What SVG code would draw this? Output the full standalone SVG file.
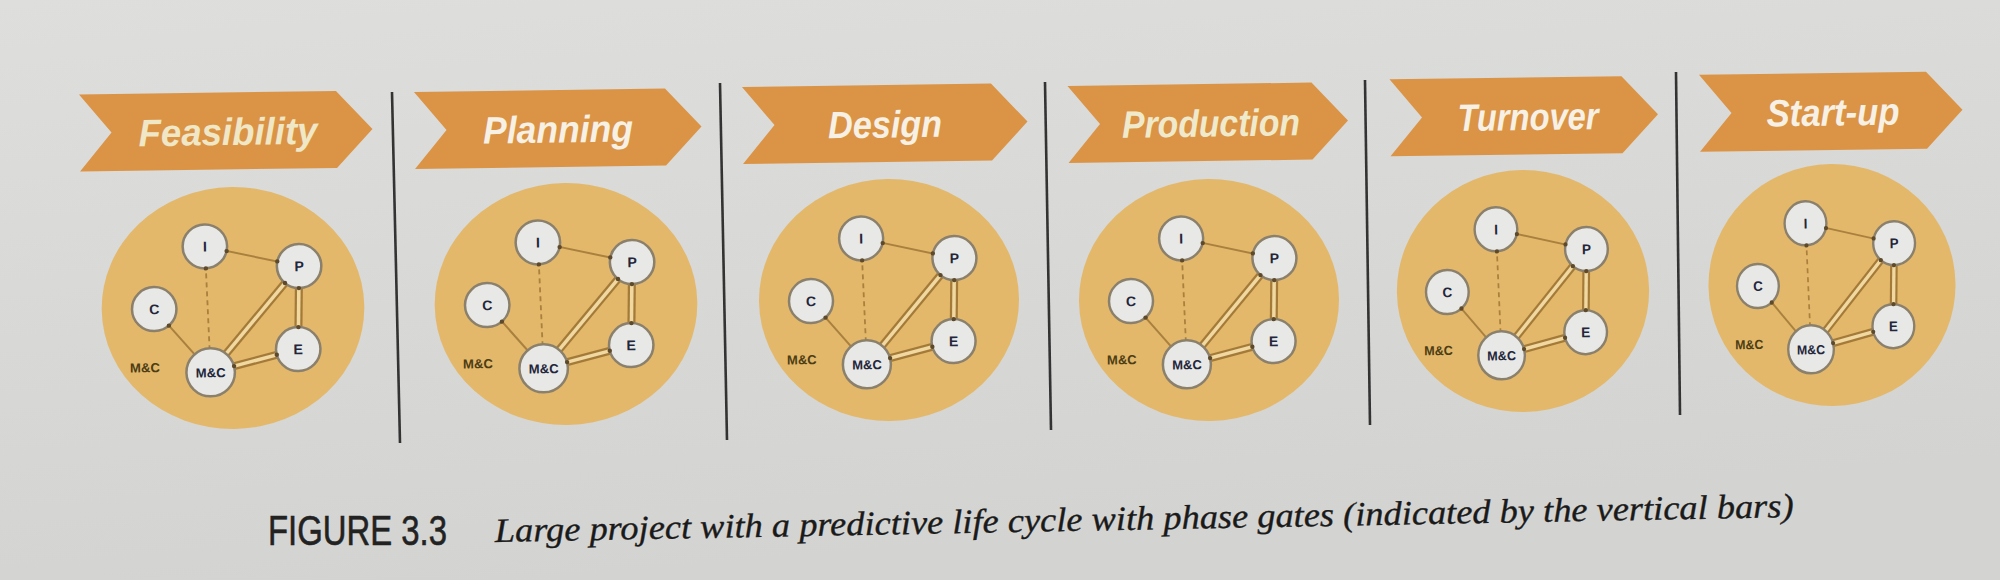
<svg xmlns="http://www.w3.org/2000/svg" width="2000" height="580" viewBox="0 0 2000 580">
<defs>
<linearGradient id="paper" x1="0" y1="0" x2="0.3" y2="1">
<stop offset="0" stop-color="#dededc"/>
<stop offset="1" stop-color="#d3d3d1"/>
</linearGradient>
<style>
.banner{fill:#db9446}
.btxt{font-family:"Liberation Sans",Arial,sans-serif;font-weight:bold;font-style:italic;font-size:38px;fill:#f6f1e4;text-anchor:middle}
.disc{fill:#e3b86a}
.thin{stroke:#a9803e;stroke-width:2;fill:none}
.dash{stroke:#a9803e;stroke-width:1.8;stroke-dasharray:5 4;fill:none}
.dbo{stroke:#a47a38;stroke-width:8;fill:none}
.dbi{stroke:#f0d8a0;stroke-width:3.5;fill:none}
.dot{fill:#5e4a2a}
.node{fill:#e8e8e6;stroke:#8b806c;stroke-width:2.5}
.ntxt{font-family:"Liberation Sans",Arial,sans-serif;font-weight:bold;font-size:14px;fill:#23263a;text-anchor:middle}
.mtxt{font-family:"Liberation Sans",Arial,sans-serif;font-weight:bold;font-size:13px;fill:#23263a;text-anchor:middle}
.otxt{font-family:"Liberation Sans",Arial,sans-serif;font-weight:bold;font-size:13px;fill:#4d3d14;text-anchor:middle}
.bar{stroke:#333333;stroke-width:2.6}
.fig{font-family:"Liberation Sans",Arial,sans-serif;font-size:42px;fill:#222222;stroke:#222222;stroke-width:0.6}
.cap{font-family:"Liberation Serif","Times New Roman",serif;font-style:italic;font-size:34px;fill:#1a1a1a;stroke:#1a1a1a;stroke-width:0.35}
</style>
</defs>
<rect x="0" y="0" width="2000" height="580" fill="url(#paper)"/>

<!-- phase gates -->
<g id="gates">
<line class="bar" x1="392" y1="92" x2="400" y2="443"/>
<line class="bar" x1="720" y1="83" x2="727" y2="440"/>
<line class="bar" x1="1045" y1="82" x2="1051" y2="430"/>
<line class="bar" x1="1365" y1="80" x2="1370" y2="425"/>
<line class="bar" x1="1676" y1="72" x2="1680" y2="415"/>
</g>

<!-- Panel 1 -->
<g id="banner-feasibility" transform="translate(226,131) rotate(-0.8)">
<polygon class="banner" points="-146.5,-38.5 110.5,-38.5 146.5,0 110.5,38.5 -146.5,38.5 -114.5,0"/>
<text class="btxt" x="2" y="14" textLength="179" lengthAdjust="spacingAndGlyphs" style="fill:#efe7c6">Feasibility</text>
</g>
<g id="panel-feasibility" transform="translate(233,308) rotate(-0.8) scale(1.01,1)">
<ellipse class="disc" rx="130" ry="121"/>
<g id="p1-connectors">
<line class="thin" x1="-27" y1="-62" x2="66" y2="-41"/>
<line class="dash" x1="-27" y1="-62" x2="-23" y2="64"/>
<line class="thin" x1="-78" y1="0" x2="-23" y2="64"/>
<line class="dbo" x1="66" y1="-41" x2="-23" y2="64"/><line class="dbi" x1="66" y1="-41" x2="-23" y2="64"/>
<line class="dbo" x1="66" y1="-41" x2="64" y2="42"/><line class="dbi" x1="66" y1="-41" x2="64" y2="42"/>
<line class="dbo" x1="64" y1="42" x2="-23" y2="64"/><line class="dbi" x1="64" y1="42" x2="-23" y2="64"/>
</g>
<g id="p1-I"><circle class="node" cx="-27" cy="-62" r="22"/><text class="ntxt" x="-27" y="-57">I</text></g>
<g id="p1-P"><circle class="node" cx="66" cy="-41" r="22"/><text class="ntxt" x="66" y="-36">P</text></g>
<g id="p1-C"><circle class="node" cx="-78" cy="0" r="22"/><text class="ntxt" x="-78" y="5">C</text></g>
<g id="p1-E"><circle class="node" cx="64" cy="42" r="22"/><text class="ntxt" x="64" y="47">E</text></g>
<g id="p1-MC"><circle class="node" cx="-23" cy="64" r="24"/><text class="mtxt" x="-23" y="69">M&amp;C</text></g>
<g id="p1-dots"><circle class="dot" cx="-5.5" cy="-57" r="2.2"/><circle class="dot" cx="44.5" cy="-46" r="2.2"/><circle class="dot" cx="-26.3" cy="-40" r="2.2"/><circle class="dot" cx="-63.7" cy="16.7" r="2.2"/><circle class="dot" cx="51.8" cy="-24.2" r="2.2"/><circle class="dot" cx="65.5" cy="-19" r="2.2"/><circle class="dot" cx="64.5" cy="20" r="2.2"/><circle class="dot" cx="42.7" cy="47.4" r="2.2"/><circle class="dot" cx="0.3" cy="58.1" r="2.2"/></g>
<text class="otxt" x="-88" y="63">M&amp;C</text>
</g>

<!-- Panel 2 -->
<g id="banner-planning" transform="translate(558,128.5) rotate(-0.8)">
<polygon class="banner" points="-143.5,-38.5 107.5,-38.5 143.5,0 107.5,38.5 -143.5,38.5 -111.5,0"/>
<text class="btxt" x="0" y="14" textLength="150" lengthAdjust="spacingAndGlyphs">Planning</text>
</g>
<g id="panel-planning" transform="translate(566,304) rotate(-0.8) scale(1.01,1)">
<ellipse class="disc" rx="130" ry="121"/>
<g id="p2-connectors">
<line class="thin" x1="-27" y1="-62" x2="66" y2="-41"/>
<line class="dash" x1="-27" y1="-62" x2="-23" y2="64"/>
<line class="thin" x1="-78" y1="0" x2="-23" y2="64"/>
<line class="dbo" x1="66" y1="-41" x2="-23" y2="64"/><line class="dbi" x1="66" y1="-41" x2="-23" y2="64"/>
<line class="dbo" x1="66" y1="-41" x2="64" y2="42"/><line class="dbi" x1="66" y1="-41" x2="64" y2="42"/>
<line class="dbo" x1="64" y1="42" x2="-23" y2="64"/><line class="dbi" x1="64" y1="42" x2="-23" y2="64"/>
</g>
<g id="p2-I"><circle class="node" cx="-27" cy="-62" r="22"/><text class="ntxt" x="-27" y="-57">I</text></g>
<g id="p2-P"><circle class="node" cx="66" cy="-41" r="22"/><text class="ntxt" x="66" y="-36">P</text></g>
<g id="p2-C"><circle class="node" cx="-78" cy="0" r="22"/><text class="ntxt" x="-78" y="5">C</text></g>
<g id="p2-E"><circle class="node" cx="64" cy="42" r="22"/><text class="ntxt" x="64" y="47">E</text></g>
<g id="p2-MC"><circle class="node" cx="-23" cy="64" r="24"/><text class="mtxt" x="-23" y="69">M&amp;C</text></g>
<g id="p2-dots"><circle class="dot" cx="-5.5" cy="-57" r="2.2"/><circle class="dot" cx="44.5" cy="-46" r="2.2"/><circle class="dot" cx="-26.3" cy="-40" r="2.2"/><circle class="dot" cx="-63.7" cy="16.7" r="2.2"/><circle class="dot" cx="51.8" cy="-24.2" r="2.2"/><circle class="dot" cx="65.5" cy="-19" r="2.2"/><circle class="dot" cx="64.5" cy="20" r="2.2"/><circle class="dot" cx="42.7" cy="47.4" r="2.2"/><circle class="dot" cx="0.3" cy="58.1" r="2.2"/></g>
<text class="otxt" x="-88" y="63">M&amp;C</text>
</g>

<!-- Panel 3 -->
<g id="banner-design" transform="translate(885,123.5) rotate(-0.8)">
<polygon class="banner" points="-142.5,-38.5 106.5,-38.5 142.5,0 106.5,38.5 -142.5,38.5 -110.5,0"/>
<text class="btxt" x="0" y="14" textLength="114" lengthAdjust="spacingAndGlyphs">Design</text>
</g>
<g id="panel-design" transform="translate(889,300) rotate(-0.8)">
<ellipse class="disc" rx="130" ry="121"/>
<g id="p3-connectors">
<line class="thin" x1="-27" y1="-62" x2="66" y2="-41"/>
<line class="dash" x1="-27" y1="-62" x2="-23" y2="64"/>
<line class="thin" x1="-78" y1="0" x2="-23" y2="64"/>
<line class="dbo" x1="66" y1="-41" x2="-23" y2="64"/><line class="dbi" x1="66" y1="-41" x2="-23" y2="64"/>
<line class="dbo" x1="66" y1="-41" x2="64" y2="42"/><line class="dbi" x1="66" y1="-41" x2="64" y2="42"/>
<line class="dbo" x1="64" y1="42" x2="-23" y2="64"/><line class="dbi" x1="64" y1="42" x2="-23" y2="64"/>
</g>
<g id="p3-I"><circle class="node" cx="-27" cy="-62" r="22"/><text class="ntxt" x="-27" y="-57">I</text></g>
<g id="p3-P"><circle class="node" cx="66" cy="-41" r="22"/><text class="ntxt" x="66" y="-36">P</text></g>
<g id="p3-C"><circle class="node" cx="-78" cy="0" r="22"/><text class="ntxt" x="-78" y="5">C</text></g>
<g id="p3-E"><circle class="node" cx="64" cy="42" r="22"/><text class="ntxt" x="64" y="47">E</text></g>
<g id="p3-MC"><circle class="node" cx="-23" cy="64" r="24"/><text class="mtxt" x="-23" y="69">M&amp;C</text></g>
<g id="p3-dots"><circle class="dot" cx="-5.5" cy="-57" r="2.2"/><circle class="dot" cx="44.5" cy="-46" r="2.2"/><circle class="dot" cx="-26.3" cy="-40" r="2.2"/><circle class="dot" cx="-63.7" cy="16.7" r="2.2"/><circle class="dot" cx="51.8" cy="-24.2" r="2.2"/><circle class="dot" cx="65.5" cy="-19" r="2.2"/><circle class="dot" cx="64.5" cy="20" r="2.2"/><circle class="dot" cx="42.7" cy="47.4" r="2.2"/><circle class="dot" cx="0.3" cy="58.1" r="2.2"/></g>
<text class="otxt" x="-88" y="63">M&amp;C</text>
</g>

<!-- Panel 4 -->
<g id="banner-production" transform="translate(1208,122.5) rotate(-0.8)">
<polygon class="banner" points="-140,-38.5 104,-38.5 140,0 104,38.5 -140,38.5 -108,0"/>
<text class="btxt" x="3" y="14" textLength="178" lengthAdjust="spacingAndGlyphs" style="fill:#f0eacc">Production</text>
</g>
<g id="panel-production" transform="translate(1209,300) rotate(-0.8)">
<ellipse class="disc" rx="130" ry="121"/>
<g id="p4-connectors">
<line class="thin" x1="-27" y1="-62" x2="66" y2="-41"/>
<line class="dash" x1="-27" y1="-62" x2="-23" y2="64"/>
<line class="thin" x1="-78" y1="0" x2="-23" y2="64"/>
<line class="dbo" x1="66" y1="-41" x2="-23" y2="64"/><line class="dbi" x1="66" y1="-41" x2="-23" y2="64"/>
<line class="dbo" x1="66" y1="-41" x2="64" y2="42"/><line class="dbi" x1="66" y1="-41" x2="64" y2="42"/>
<line class="dbo" x1="64" y1="42" x2="-23" y2="64"/><line class="dbi" x1="64" y1="42" x2="-23" y2="64"/>
</g>
<g id="p4-I"><circle class="node" cx="-27" cy="-62" r="22"/><text class="ntxt" x="-27" y="-57">I</text></g>
<g id="p4-P"><circle class="node" cx="66" cy="-41" r="22"/><text class="ntxt" x="66" y="-36">P</text></g>
<g id="p4-C"><circle class="node" cx="-78" cy="0" r="22"/><text class="ntxt" x="-78" y="5">C</text></g>
<g id="p4-E"><circle class="node" cx="64" cy="42" r="22"/><text class="ntxt" x="64" y="47">E</text></g>
<g id="p4-MC"><circle class="node" cx="-23" cy="64" r="24"/><text class="mtxt" x="-23" y="69">M&amp;C</text></g>
<g id="p4-dots"><circle class="dot" cx="-5.5" cy="-57" r="2.2"/><circle class="dot" cx="44.5" cy="-46" r="2.2"/><circle class="dot" cx="-26.3" cy="-40" r="2.2"/><circle class="dot" cx="-63.7" cy="16.7" r="2.2"/><circle class="dot" cx="51.8" cy="-24.2" r="2.2"/><circle class="dot" cx="65.5" cy="-19" r="2.2"/><circle class="dot" cx="64.5" cy="20" r="2.2"/><circle class="dot" cx="42.7" cy="47.4" r="2.2"/><circle class="dot" cx="0.3" cy="58.1" r="2.2"/></g>
<text class="otxt" x="-88" y="63">M&amp;C</text>
</g>

<!-- Panel 5 -->
<g id="banner-turnover" transform="translate(1524,116) rotate(-0.8)">
<polygon class="banner" points="-134,-38.5 98,-38.5 134,0 98,38.5 -134,38.5 -102,0"/>
<text class="btxt" x="4" y="14" textLength="141" lengthAdjust="spacingAndGlyphs">Turnover</text>
</g>
<g id="panel-turnover" transform="translate(1523,291) rotate(-0.8) scale(0.97,1)">
<ellipse class="disc" rx="130" ry="121"/>
<g id="p5-connectors">
<line class="thin" x1="-27" y1="-62" x2="66" y2="-41"/>
<line class="dash" x1="-27" y1="-62" x2="-23" y2="64"/>
<line class="thin" x1="-78" y1="0" x2="-23" y2="64"/>
<line class="dbo" x1="66" y1="-41" x2="-23" y2="64"/><line class="dbi" x1="66" y1="-41" x2="-23" y2="64"/>
<line class="dbo" x1="66" y1="-41" x2="64" y2="42"/><line class="dbi" x1="66" y1="-41" x2="64" y2="42"/>
<line class="dbo" x1="64" y1="42" x2="-23" y2="64"/><line class="dbi" x1="64" y1="42" x2="-23" y2="64"/>
</g>
<g id="p5-I"><circle class="node" cx="-27" cy="-62" r="22"/><text class="ntxt" x="-27" y="-57">I</text></g>
<g id="p5-P"><circle class="node" cx="66" cy="-41" r="22"/><text class="ntxt" x="66" y="-36">P</text></g>
<g id="p5-C"><circle class="node" cx="-78" cy="0" r="22"/><text class="ntxt" x="-78" y="5">C</text></g>
<g id="p5-E"><circle class="node" cx="64" cy="42" r="22"/><text class="ntxt" x="64" y="47">E</text></g>
<g id="p5-MC"><circle class="node" cx="-23" cy="64" r="24"/><text class="mtxt" x="-23" y="69">M&amp;C</text></g>
<g id="p5-dots"><circle class="dot" cx="-5.5" cy="-57" r="2.2"/><circle class="dot" cx="44.5" cy="-46" r="2.2"/><circle class="dot" cx="-26.3" cy="-40" r="2.2"/><circle class="dot" cx="-63.7" cy="16.7" r="2.2"/><circle class="dot" cx="51.8" cy="-24.2" r="2.2"/><circle class="dot" cx="65.5" cy="-19" r="2.2"/><circle class="dot" cx="64.5" cy="20" r="2.2"/><circle class="dot" cx="42.7" cy="47.4" r="2.2"/><circle class="dot" cx="0.3" cy="58.1" r="2.2"/></g>
<text class="otxt" x="-88" y="63">M&amp;C</text>
</g>

<!-- Panel 6 -->
<g id="banner-startup" transform="translate(1831,111.5) rotate(-0.8)">
<polygon class="banner" points="-131.5,-38.5 95.5,-38.5 131.5,0 95.5,38.5 -131.5,38.5 -99.5,0"/>
<text class="btxt" x="2" y="14" textLength="133" lengthAdjust="spacingAndGlyphs">Start-up</text>
</g>
<g id="panel-startup" transform="translate(1832,285) rotate(-0.8) scale(0.95,1)">
<ellipse class="disc" rx="130" ry="121"/>
<g id="p6-connectors">
<line class="thin" x1="-27" y1="-62" x2="66" y2="-41"/>
<line class="dash" x1="-27" y1="-62" x2="-23" y2="64"/>
<line class="thin" x1="-78" y1="0" x2="-23" y2="64"/>
<line class="dbo" x1="66" y1="-41" x2="-23" y2="64"/><line class="dbi" x1="66" y1="-41" x2="-23" y2="64"/>
<line class="dbo" x1="66" y1="-41" x2="64" y2="42"/><line class="dbi" x1="66" y1="-41" x2="64" y2="42"/>
<line class="dbo" x1="64" y1="42" x2="-23" y2="64"/><line class="dbi" x1="64" y1="42" x2="-23" y2="64"/>
</g>
<g id="p6-I"><circle class="node" cx="-27" cy="-62" r="22"/><text class="ntxt" x="-27" y="-57">I</text></g>
<g id="p6-P"><circle class="node" cx="66" cy="-41" r="22"/><text class="ntxt" x="66" y="-36">P</text></g>
<g id="p6-C"><circle class="node" cx="-78" cy="0" r="22"/><text class="ntxt" x="-78" y="5">C</text></g>
<g id="p6-E"><circle class="node" cx="64" cy="42" r="22"/><text class="ntxt" x="64" y="47">E</text></g>
<g id="p6-MC"><circle class="node" cx="-23" cy="64" r="24"/><text class="mtxt" x="-23" y="69">M&amp;C</text></g>
<g id="p6-dots"><circle class="dot" cx="-5.5" cy="-57" r="2.2"/><circle class="dot" cx="44.5" cy="-46" r="2.2"/><circle class="dot" cx="-26.3" cy="-40" r="2.2"/><circle class="dot" cx="-63.7" cy="16.7" r="2.2"/><circle class="dot" cx="51.8" cy="-24.2" r="2.2"/><circle class="dot" cx="65.5" cy="-19" r="2.2"/><circle class="dot" cx="64.5" cy="20" r="2.2"/><circle class="dot" cx="42.7" cy="47.4" r="2.2"/><circle class="dot" cx="0.3" cy="58.1" r="2.2"/></g>
<text class="otxt" x="-88" y="63">M&amp;C</text>
</g>

<!-- Caption -->
<g id="caption">
<text class="fig" x="268" y="545" textLength="179" lengthAdjust="spacingAndGlyphs">FIGURE 3.3</text>
<text class="cap" x="495" y="542" textLength="1299" lengthAdjust="spacingAndGlyphs" transform="rotate(-1.1 495 542)">Large project with a predictive life cycle with phase gates (indicated by the vertical bars)</text>
</g>
</svg>
